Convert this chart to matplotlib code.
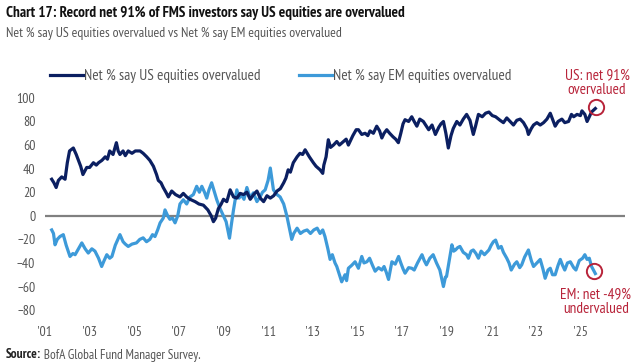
import matplotlib
matplotlib.use("Agg")
import matplotlib.pyplot as plt
import numpy as np

plt.rcParams['font.family'] = ['PT Sans Narrow', 'DejaVu Sans']

# Net % say US equities overvalued
us_t = [2001.3, 2001.4, 2001.5, 2001.6, 2001.75, 2001.9, 2002.0, 2002.1, 2002.27, 2002.4,
        2002.5, 2002.6, 2002.7, 2002.87, 2003.0, 2003.17, 2003.3, 2003.4, 2003.55, 2003.7,
        2003.8, 2003.9, 2004.05, 2004.2, 2004.28, 2004.36, 2004.5, 2004.6, 2004.73, 2004.9,
        2005.05, 2005.26, 2005.4, 2005.56, 2005.7, 2005.86, 2006.0, 2006.08, 2006.2, 2006.3,
        2006.42, 2006.53, 2006.68, 2006.85, 2007.05, 2007.2, 2007.35, 2007.5, 2007.73, 2007.9,
        2008.1, 2008.2, 2008.3, 2008.45, 2008.55, 2008.65, 2008.77, 2008.9, 2009.0, 2009.15,
        2009.3, 2009.45, 2009.6, 2009.75, 2009.9, 2010.05, 2010.2, 2010.35, 2010.5, 2010.65,
        2010.8, 2010.95, 2011.1, 2011.25, 2011.4, 2011.55, 2011.7, 2011.8, 2011.9, 2012.0,
        2012.13, 2012.3, 2012.43, 2012.55, 2012.66, 2012.85, 2013.03, 2013.15, 2013.33, 2013.45,
        2013.5, 2013.6, 2013.7, 2013.8, 2013.93, 2014.08, 2014.2, 2014.38, 2014.5, 2014.6,
        2014.8, 2014.95, 2015.05, 2015.2, 2015.35, 2015.47, 2015.57, 2015.72, 2015.87, 2016.0,
        2016.1, 2016.2, 2016.32, 2016.45, 2016.6, 2016.72, 2016.84, 2016.95, 2017.05, 2017.14,
        2017.3, 2017.44, 2017.55, 2017.67, 2017.8, 2017.96, 2018.1, 2018.2, 2018.35, 2018.5,
        2018.65, 2018.75, 2018.86, 2018.97, 2019.08, 2019.2, 2019.3, 2019.46, 2019.6, 2019.75,
        2019.9, 2020.05, 2020.2, 2020.3, 2020.43, 2020.6, 2020.75, 2020.9, 2021.05, 2021.2,
        2021.4, 2021.55, 2021.7, 2021.85, 2022.0, 2022.15, 2022.3, 2022.45, 2022.6, 2022.67,
        2022.8, 2022.9, 2023.05, 2023.2, 2023.35, 2023.5, 2023.65, 2023.75, 2023.87, 2024.0,
        2024.17, 2024.3, 2024.47, 2024.6, 2024.7, 2024.85, 2025.0, 2025.07, 2025.2, 2025.3,
        2025.4, 2025.5, 2025.67]
us_v = [31, 28, 24, 30, 33, 31, 45, 55, 57.5, 52,
        47, 42, 35, 41, 41, 45, 43, 45, 47, 50,
        48, 55, 52, 62, 55, 52, 55, 51, 55, 53,
        55, 55, 53, 50, 47, 42, 35, 30, 28, 24,
        20, 16, 21, 18, 16, 19, 16, 14, 12, 10,
        9, 7, 5, 0, -5, -2, 6, 10, 14, 12,
        22, 16, 15, 19, 18, 20, 14, 18, 21, 15,
        12, 17, 15, 17, 21, 23, 28, 32, 39, 37,
        45, 50, 53, 52, 56, 50, 45, 42, 39, 36,
        43, 50, 64.5, 58, 60, 63, 60, 63, 65, 60,
        68, 73, 73, 69, 70, 68, 72, 70, 76, 72,
        66, 70, 73, 70, 67, 65, 62, 70, 78, 81.5,
        80, 84, 80, 76, 82, 80, 76, 73, 77, 69,
        75, 78, 80, 70, 57.5, 68, 74, 80, 77, 82,
        86, 81, 69, 76, 86, 84, 87, 88, 85, 84,
        81, 79, 83, 80, 77, 81, 82, 79, 74, 69,
        74, 77, 79, 77, 79, 82, 87, 82, 76, 80,
        82, 79, 80, 86, 84, 86, 85, 89, 86, 80,
        84, 88, 91]

# Net % say EM equities overvalued
em_t = [2001.3, 2001.38, 2001.45, 2001.55, 2001.67, 2001.82, 2001.95, 2002.12, 2002.25, 2002.35,
        2002.5, 2002.65, 2002.8, 2002.94, 2003.1, 2003.24, 2003.4, 2003.54, 2003.65, 2003.77,
        2003.9, 2004.0, 2004.15, 2004.36, 2004.5, 2004.6, 2004.73, 2004.9, 2005.1, 2005.25,
        2005.4, 2005.55, 2005.7, 2005.82, 2005.93, 2006.05, 2006.16, 2006.3, 2006.38, 2006.5,
        2006.6, 2006.72, 2006.83, 2006.95, 2007.05, 2007.2, 2007.35, 2007.5, 2007.65, 2007.8,
        2007.92, 2008.03, 2008.15, 2008.25, 2008.35, 2008.47, 2008.6, 2008.7, 2008.85, 2009.0,
        2009.12, 2009.27, 2009.35, 2009.45, 2009.6, 2009.7, 2009.8, 2009.92, 2010.05, 2010.2,
        2010.34, 2010.5, 2010.64, 2010.75, 2010.87, 2011.0, 2011.1, 2011.18, 2011.24, 2011.4,
        2011.54, 2011.7, 2011.84, 2011.95, 2012.06, 2012.15, 2012.3, 2012.45, 2012.6, 2012.75,
        2012.9, 2013.05, 2013.2, 2013.33, 2013.45, 2013.55, 2013.68, 2013.78, 2013.88, 2014.0,
        2014.08, 2014.2, 2014.3, 2014.45, 2014.52, 2014.6, 2014.75, 2014.9, 2015.05, 2015.2,
        2015.3, 2015.43, 2015.55, 2015.68, 2015.8, 2015.95, 2016.1, 2016.2, 2016.3, 2016.4,
        2016.55, 2016.7, 2016.85, 2016.95, 2017.05, 2017.14, 2017.3, 2017.44, 2017.55, 2017.7,
        2017.9, 2018.0, 2018.1, 2018.25, 2018.4, 2018.55, 2018.7, 2018.86, 2018.95, 2019.0,
        2019.12, 2019.24, 2019.32, 2019.4, 2019.5, 2019.6, 2019.75, 2019.9, 2019.98, 2020.1,
        2020.2, 2020.32, 2020.43, 2020.55, 2020.7, 2020.9, 2021.0, 2021.1, 2021.2, 2021.33,
        2021.45, 2021.55, 2021.7, 2021.8, 2021.9, 2022.05, 2022.15, 2022.28, 2022.37, 2022.5,
        2022.67, 2022.8, 2022.9, 2023.05, 2023.2, 2023.32, 2023.42, 2023.55, 2023.65, 2023.75,
        2023.87, 2024.0, 2024.1, 2024.2, 2024.3, 2024.42, 2024.55, 2024.7, 2024.8, 2024.95,
        2025.1, 2025.2, 2025.3, 2025.4, 2025.5, 2025.67]
em_v = [-12, -15, -24.6, -20, -17.6, -16, -25, -34.5, -32, -33,
        -28, -23, -28, -31.6, -28, -30, -36, -43, -38, -33,
        -36, -34.5, -25, -16, -22, -24, -26, -24, -23, -20,
        -18.7, -22, -20, -16, -17.6, -12, -6, -2, 5, 0,
        -3, -2, -6, 0, 10, 13.6, 10, 16, 18, 25,
        20, 25, 20, 15, 22, 28, 20, 13.6, 6, 0,
        -5, -19, -8, 5, 22, 15, 18, 14, 24, 15,
        19.5, 12, 16, 20, 22, 30, 40.5, 30, 22, 18,
        16, 10, 0, -10, -20, -15, -10.5, -15, -13, -12,
        -15, -12, -10.5, -15, -12, -17.6, -28, -37, -33, -40,
        -43, -50, -56, -50, -55, -44.5, -42, -39, -44.5, -34.5,
        -40, -39, -36, -42, -47, -44, -46, -43, -48, -54,
        -39, -41, -34.5, -40, -45, -48.7, -44, -44.5, -46, -40,
        -33, -38, -41.6, -36, -33, -40, -46, -60, -52, -51.5,
        -38, -24.6, -30, -29, -27, -26, -31, -33, -36, -30,
        -29, -32, -36, -30, -33, -29, -25, -22, -20.6, -27.5,
        -26, -31, -36, -40, -46, -41, -39, -44, -41.6, -35,
        -29, -38, -43, -40, -37, -45, -53, -46, -44.5, -50,
        -50, -42, -37, -42, -46, -40, -39, -44, -46, -38,
        -36, -33, -37, -36, -43, -49]

tick_years = [2001, 2003, 2005, 2007, 2009, 2011, 2013, 2015, 2017, 2019, 2021, 2023, 2025]
tick_labels = ["'01", "'03", "'05", "'07", "'09", "'11", "'13", "'15", "'17", "'19", "'21", "'23", "'25"]
y_ticks = [100, 80, 60, 40, 20, 0, -20, -40, -60, -80]

navy = '#0b1f61'
light = '#3d9ad9'
red = '#b8243a'
grey = '#555555'

fig = plt.figure(figsize=(6.4, 3.64), dpi=100)
ax = fig.add_axes([45/640, 1 - 316/364, 580/640, 224/364])

ax.axhline(0, color='#808080', lw=1.6, zorder=1)
ax.plot(em_t, em_v, color=light, lw=2.3, label='Net % say EM equities overvalued', zorder=2)
ax.plot(us_t, us_v, color=navy, lw=2.3, label='Net % say US equities overvalued', zorder=3)

ax.set_xlim(2001, 2027)
ax.set_ylim(-85, 105)
ax.set_xticks(tick_years)
ax.set_xticklabels(tick_labels)
ax.set_yticks(y_ticks)
ax.tick_params(length=0, labelsize=10, labelcolor=grey, pad=7)
for s in ax.spines.values():
    s.set_visible(False)

# circles round latest readings
ax.plot(us_t[-1] + 0.05, us_v[-1] + 1, 'o', ms=11, mfc='none', mec=red, mew=1.4, zorder=4)
ax.plot(em_t[-1] - 0.05, em_v[-1] + 2, 'o', ms=11, mfc='none', mec=red, mew=1.4, zorder=4)
ax.text(2025.75, 101, 'US: net 91%\novervalued', color=red, fontsize=11, ha='center', va='bottom',
        linespacing=1.0)
ax.text(2025.7, -61, 'EM: net -49%\nundervalued', color=red, fontsize=11, ha='center', va='top',
        linespacing=1.0)

h, l = ax.get_legend_handles_labels()
fig.legend(h[::-1], l[::-1], loc='center left', bbox_to_anchor=(50/640, 1 - 76/364), ncol=2,
           frameon=False, fontsize=11, handlelength=2.15, handletextpad=0.1, columnspacing=2.5,
           labelcolor=grey, borderaxespad=0, borderpad=0)

fig.text(6/640, 1 - 13/364, 'Chart 17: Record net 91% of FMS investors say US equities are overvalued',
         fontsize=10.9, fontweight='bold', color='#111111', va='center')
fig.text(6/640, 1 - 34/364, 'Net % say US equities overvalued vs Net % say EM equities overvalued',
         fontsize=9.9, color=grey, va='center')
src = fig.text(6/640, 1 - 355/364, 'Source:', fontsize=9.5, fontweight='bold', color='#222222', va='center')
ax.annotate(' BofA Global Fund Manager Survey.', xy=(1, 0.5), xycoords=src, fontsize=9.5,
            color=grey, va='center', ha='left')

fig.savefig('out.png', dpi=100)
